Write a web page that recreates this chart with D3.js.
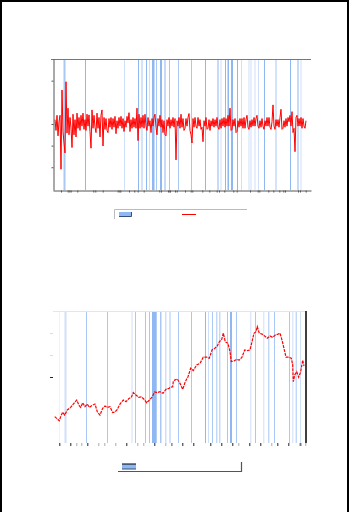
<!DOCTYPE html>
<html>
<head>
<meta charset="utf-8">
<script src="https://cdn.jsdelivr.net/npm/d3@7"></script>
<style>
body { margin: 0; background: #fff; }
svg { display: block; }
</style>
</head>
<body>
<div id="chart"></div>
<script>
// ---- data ----
// chart 1: periodic returns (%), one value per period starting at period 2
let returnStart = 2;
let returns = [
    2, -3, 4, -5.5, 1, 4, -20.9, 15.7, -3.6, -8.8,
    -13.4, 19.5, -4.2, 7.3, -5, 3, -1.8, -10.9, 4.5, -5,
    2, -6, 5, -2, 3, -3, 4, -1, 5, -2.5,
    2, -3, 4.5, -1, 4.2, -3.5, -11.2, 6.5, -2, 4,
    -1.5, -4, 5, -2, 3, -6, 4, 6.5, -10.2, 3,
    -2.5, 2.5, -3, -4, 2.5, -1.5, 3, -2.5, 2.5, -1.5,
    3.5, -4.5, 1.5, -2, 3, -1, 3.5, -2, 2.5, -3.5,
    1.5, -1.5, 3.5, 0.5, 5.2, -3.5, 2, -2, 3, -1.5,
    2.5, -2, 7.3, -7.7, 4.5, -2, 3, -1.5, 4, -2,
    4.5, -1, -3, 3, -1, 1.5, -4, 2.5, -1, 3,
    4.5, -1.5, -5, 2.5, -1, 4, -1.5, 2, -4, 1.5,
    -5, -5.5, 2, -1, 3, -2, 2, -1, 3, -1.5,
    2.5, -16.6, 1.5, -1, 3, -2, 4.5, -1.5, 2.5, -3,
    -2, 2.5, -1, 3, 4.8, -3, -5, -8.8, 2.5, -1.5,
    3, -1, -2, 3, -1, 2, -2.5, -1.5, -8.2, 1.5,
    -1, 3, -2.5, -2, 2, -3, 1.5, -1, 2.5, -1.5,
    2, -1, 3, -1.5, -2.5, 2, -2, 2.5, -1, 3,
    -1.5, 2.5, -1, 4, -1, 7.3, -3, -2.5, 2, -1,
    2.5, -4, -3.5, 1.5, -1.5, 2.5, -1, 2.5, -2, 3,
    -2, 2, 4, -1.5, -2.5, 1.5, -1.5, 2, -1, 3,
    -1, 2.5, 4, -1, -2, 1.5, -1.5, 2.5, -1, -2.5,
    1.5, -1, 3, -1, 3, -1.5, -2.5, 1, 8.8, -1,
    -2.5, 2, -1, 2, -1.5, 3, 6.8, -2.5, -2, 1.5,
    -1.5, 2.5, -1, 3, 1, 4, -1, 5.7, -4, -2,
    -12.8, 3, 4, -1, 2.5, -1, 3, -2, 2.5, -1,
    -2, 1.5
];
// event periods [start, end, intensity 0..3]
let events1 = [
    [10.5, 12.5, 2], [32, 33, 3], [71, 72, 1], [85, 86, 3], [88.5, 89.5, 2],
    [93, 94, 3], [96, 97, 1], [99, 101.5, 3], [103, 104, 2], [107, 109, 3],
    [111.5, 112.5, 3], [116, 117, 2], [125, 126, 2], [138, 139, 2], [152, 153, 3],
    [164.5, 165.5, 3], [167.5, 168.5, 1], [172, 173, 3], [174.5, 176, 3], [178, 180, 3],
    [184, 185, 3], [188, 189, 1], [195.5, 196.5, 1], [197.5, 198.5, 1], [201.5, 202.5, 1],
    [205, 206, 1], [211, 212, 3], [222.5, 223.5, 2], [237, 238, 3], [244.5, 245.5, 3],
    [247.5, 248.5, 1]
];
let xTicks1 = [8, 14.7, 16.3, 17.7, 24.3, 40.3, 42.3, 49.7, 64.7, 66.3, 67.3, 76, 81.3,
    84.7, 90.7, 106.3, 108, 115, 116.3, 123.7, 117, 122, 132, 137.7, 139.3, 149.3, 156.3,
    163.7, 166, 171.3, 180.3, 183.7, 197, 204.7, 206.3, 215.3, 220.3, 226.3, 230.3, 232,
    245, 247, 252.7];
let yTicks1 = [20, 0, -10, -20];

// chart 2: cumulative index level
let levelT = [1.7, 3.7, 6.3, 7.7, 9.7, 11.7, 14.3, 17.7, 20.3, 23.7, 26, 27.7, 29.7, 32,
    34.3, 36.3, 39, 42, 44.3, 47, 49.7, 52, 54.3, 57, 59.7, 62, 64.3, 67, 70.3, 73,
    75.7, 78.3, 80.3, 83, 85.7, 88.3, 91, 93.7, 96.3, 99, 101.7, 104.3, 107, 110, 113,
    116.3, 117, 119.7, 120.3, 121.7, 124.3, 127, 129.7, 132.3, 135, 137.7, 140.3, 143.7,
    147, 150.3, 153.7, 156.3, 159, 161.7, 164.3, 166.3, 168.7, 170.3, 172.3, 175, 177,
    178.3, 181, 183.7, 186.3, 189, 191.7, 194.3, 197, 199, 201, 203, 204.3, 206.3, 209,
    211.7, 214.3, 217, 219.7, 222.3, 225, 227, 229, 231, 233, 235.7, 238.3, 239.7, 240.3,
    241.7, 243.7, 245.7, 247.7, 249.7, 251];
let levelV = [120, 112, 101, 120, 140, 127, 150, 162, 177, 195, 171, 162, 183, 165,
    177, 162, 171, 177, 142, 127, 158, 168, 162, 165, 138, 141, 153, 177, 195, 188,
    201, 208, 229, 218, 208, 210, 199, 183, 195, 208, 232, 229, 233, 226, 244, 249,
    252, 256, 279, 286, 291, 271, 244, 279, 301, 340, 329, 355, 362, 390, 390, 385,
    423, 430, 441, 460, 471, 499, 460, 453, 415, 370, 373, 380, 377, 390, 423, 420,
    423, 460, 499, 506, 529, 499, 495, 486, 476, 486, 480, 491, 495, 499, 468, 430,
    390, 390, 385, 355, 279, 309, 324, 299, 324, 377, 350];
let events2 = [
    [6, 7, 0], [11.5, 13.5, 1], [33, 34, 2], [54, 55, 2], [78.5, 79.5, 1],
    [82, 83, 2], [92, 93, 2], [96, 97, 2], [99, 103.7, 3], [107, 108.5, 2],
    [112, 113.5, 1], [116.5, 117.5, 2], [125, 126, 2], [138, 139, 2], [152, 153, 3],
    [155, 156, 1], [159, 160, 2], [163.3, 164.3, 2], [166.3, 167.3, 2], [174, 175, 2],
    [177, 179, 3], [183, 184, 2], [197.3, 198.3, 1], [202, 203, 2], [210.3, 211.3, 1],
    [215.3, 216.3, 2], [221, 222, 2], [236, 237, 2], [239.3, 240.3, 1], [242.7, 243.7, 2],
    [247, 248, 1]
];
let xTicks2Major = [6.3, 17.3, 34.3, 73.3, 101.3, 118.3, 129.3, 140.3, 157.3, 168.3,
    179.3, 196.3, 207.3, 224.3, 235.3, 247.3];
let xTicks2Minor = [23.3, 28.3, 45.3, 51.3, 62.3, 84.3, 90.3, 112.3, 118.3, 185.3, 218.3,
    246.3, 252.3];
let yTicks2Major = [300];
let yTicks2Minor = [400, 500];

// ---- drawing ----
let svg = d3.select('#chart').append('svg')
    .attr('width', 352)
    .attr('height', 512);

// page frame
svg.append('path')
    .attr('d', 'M1,512V1H348V512')
    .attr('fill', 'none')
    .attr('stroke', '#000')
    .attr('stroke-width', 2);

let blues = d3.scaleOrdinal().domain([0, 1, 2, 3])
    .range(['#eef4fd', '#cfe0fa', '#a9c8f5', '#8fb7f2']);

// chart 1
let x1 = d3.scaleLinear().domain([0, 258]).range([53, 311]);
let y1 = d3.scaleLinear().domain([-30.5, 30]).range([190, 59]);
let g1 = svg.append('g');

g1.selectAll('rect.ev').data(events1).enter().append('rect')
    .attr('class', 'ev')
    .attr('x', d => x1(d[0]))
    .attr('width', d => x1(d[1]) - x1(d[0]))
    .attr('y', y1.range()[1])
    .attr('height', y1.range()[0] - y1.range()[1])
    .attr('fill', d => blues(d[2]));

g1.append('line')
    .attr('x1', x1.range()[0] - 2).attr('x2', x1.range()[1])
    .attr('y1', 59.5).attr('y2', 59.5)
    .attr('stroke', '#777');

let line1 = d3.line()
    .x((d, i) => x1(returnStart + i))
    .y(d => y1(d));
g1.append('path')
    .datum(returns)
    .attr('d', line1)
    .attr('fill', 'none')
    .attr('stroke', '#ff0000')
    .attr('stroke-width', 1);

let ax1 = g1.append('g')
    .attr('transform', 'translate(53.5,0)')
    .call(d3.axisLeft(y1).tickValues(yTicks1).tickSize(2).tickSizeOuter(0).tickFormat(''));
let bx1 = g1.append('g')
    .attr('transform', 'translate(0,190.5)')
    .call(d3.axisBottom(x1).tickValues(xTicks1).tickSize(2).tickSizeOuter(0).tickFormat(''));
[ax1, bx1].forEach(a => {
    a.selectAll('path,line').attr('stroke', '#555');
});

// legend 1
let l1 = svg.append('g');
l1.append('path')
    .attr('d', 'M114.5,219V209.5H247')
    .attr('fill', 'none')
    .attr('stroke', '#bbb');
l1.append('rect')
    .attr('x', 119).attr('y', 212).attr('width', 13).attr('height', 4)
    .attr('fill', '#8fb7f2');
l1.append('path')
    .attr('d', 'M131.5,212V216.5H119')
    .attr('fill', 'none')
    .attr('stroke', '#34507a');
l1.append('line')
    .attr('x1', 182).attr('x2', 196)
    .attr('y1', 214.5).attr('y2', 214.5)
    .attr('stroke', '#ff0000');

// chart 2
let x2 = d3.scaleLinear().domain([0, 253]).range([53, 306]);
let y2 = d3.scaleLinear().domain([0, 600]).range([443, 311]);
let g2 = svg.append('g');

g2.selectAll('rect.ev').data(events2).enter().append('rect')
    .attr('class', 'ev')
    .attr('x', d => x2(d[0]))
    .attr('width', d => x2(d[1]) - x2(d[0]))
    .attr('y', y2.range()[1])
    .attr('height', y2.range()[0] - y2.range()[1])
    .attr('fill', d => blues(d[2]));

g2.append('line')
    .attr('x1', x2.range()[0]).attr('x2', x2.range()[1])
    .attr('y1', 311.5).attr('y2', 311.5)
    .attr('stroke', '#e6e6e6');
g2.append('line')
    .attr('x1', 306).attr('x2', 306)
    .attr('y1', 311).attr('y2', 443)
    .attr('stroke', '#000')
    .attr('stroke-width', 1.5);

let line2 = d3.line()
    .x((d, i) => x2(levelT[i]))
    .y(d => y2(d));
g2.append('path')
    .datum(levelV)
    .attr('d', line2)
    .attr('fill', 'none')
    .attr('stroke', '#ff0000')
    .attr('stroke-width', 1.2)
    .attr('stroke-dasharray', '3,1');

function tickAxis(g, axis, color) {
    g.call(axis);
    g.select('.domain').remove();
    g.selectAll('line').attr('stroke', color);
}
tickAxis(g2.append('g').attr('transform', 'translate(0,443)'),
    d3.axisBottom(x2).tickValues(xTicks2Major).tickSize(3).tickFormat(''), '#222');
tickAxis(g2.append('g').attr('transform', 'translate(0,443)'),
    d3.axisBottom(x2).tickValues(xTicks2Minor).tickSize(3).tickFormat(''), '#aaa');
tickAxis(g2.append('g').attr('transform', 'translate(53,0)'),
    d3.axisLeft(y2).tickValues(yTicks2Major).tickSize(3).tickFormat(''), '#222');
tickAxis(g2.append('g').attr('transform', 'translate(53,0)'),
    d3.axisLeft(y2).tickValues(yTicks2Minor).tickSize(3).tickFormat(''), '#ddd');

// legend 2
let l2 = svg.append('g');
l2.append('path')
    .attr('d', 'M118,471.5H241.5V462')
    .attr('fill', 'none')
    .attr('stroke', '#555')
    .attr('stroke-width', 1.2);
l2.append('rect')
    .attr('x', 122).attr('y', 464).attr('width', 14).attr('height', 5)
    .attr('fill', '#8fb7f2');
l2.append('line')
    .attr('x1', 122).attr('x2', 136).attr('y1', 464).attr('y2', 464)
    .attr('stroke', '#000');
l2.append('line')
    .attr('x1', 122).attr('x2', 136).attr('y1', 469).attr('y2', 469)
    .attr('stroke', '#34507a');
</script>
</body>
</html>
